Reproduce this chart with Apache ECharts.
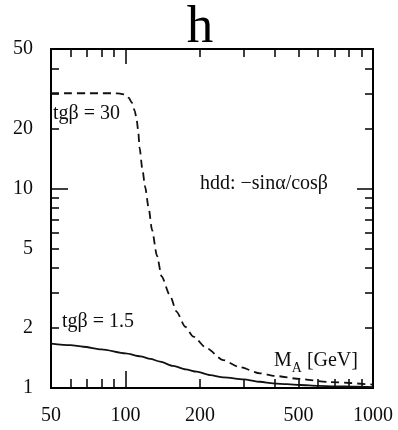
<!DOCTYPE html>
<html>
<head>
<meta charset="utf-8">
<script src="https://cdn.jsdelivr.net/npm/echarts@6/dist/echarts.min.js"></script>
<style>
  html, body { margin: 0; padding: 0; background: #fff; }
  #chart { width: 398px; height: 430px; }
</style>
</head>
<body>
<div id="chart"></div>
<script>
// h coupling to down-type quarks (-sin(alpha)/cos(beta)) versus M_A, log-log

// Tick labels and tick positions
const massLabels = [50, 100, 200, 500, 1000];
const couplingLabels = [1, 2, 5, 10, 20, 50];
const massMinorTicks = [60, 70, 80, 90, 200, 300, 400, 500, 600, 700, 800, 900];
const massMajorTicks = [100];
const couplingMinorTicks = [2, 3, 4, 5, 6, 7, 8, 9, 20, 30, 40];
const couplingMajorTicks = [10];

// tg(beta) = 30, dashed curve
const tanBeta30Mass = [50, 60, 70, 80, 90, 95, 100, 103, 106, 109, 111, 112.5, 114, 117, 120, 124, 128, 134, 140, 151, 161, 174, 188, 213, 248, 290, 350, 400, 507, 670, 1000];
const tanBeta30Coupling = [30, 30, 30, 30, 30, 29.9, 29.5, 28.5, 27, 24.5, 22, 19.5, 16, 12.5, 10.2, 8, 6.2, 4.6, 3.62, 2.92, 2.41, 2.03, 1.81, 1.58, 1.38, 1.27, 1.185, 1.15, 1.11, 1.07, 1.04];

// tg(beta) = 1.5, solid curve
const tanBeta15Mass = [50, 60, 67.5, 80, 100, 115, 126, 138, 156, 175, 194, 220, 250, 300, 350, 395, 450, 507, 600, 700, 850, 1000];
const tanBeta15Coupling = [1.67, 1.64, 1.61, 1.56, 1.49, 1.44, 1.40, 1.355, 1.29, 1.24, 1.207, 1.16, 1.13, 1.105, 1.075, 1.055, 1.045, 1.035, 1.025, 1.02, 1.015, 1.01];

const SERIF = '"Liberation Serif", "DejaVu Serif", serif';
const INK = '#0d0d0d';

function pairs(xs, ys) {
  return xs.map((x, i) => [x, ys[i]]);
}

function tickStyle(values, length) {
  return {
    show: true,
    inside: true,
    length: length,
    customValues: values,
    lineStyle: { color: '#000', width: 1.5 }
  };
}

function labelStyle(values, margin) {
  return {
    show: true,
    customValues: values,
    margin: margin,
    color: INK,
    fontFamily: SERIF,
    fontSize: 20,
    formatter: v => String(Math.round(v))
  };
}

function massAxis(position, ticks, length, labels) {
  return {
    type: 'log', logBase: 10, min: 50, max: 1000, position: position,
    axisLine: { show: false },
    splitLine: { show: false },
    axisTick: tickStyle(ticks, length),
    axisLabel: labels ? labelStyle(labels, 18) : { show: false }
  };
}

function couplingAxis(position, ticks, length, labels) {
  return {
    type: 'log', logBase: 10, min: 1, max: 50, position: position,
    axisLine: { show: false },
    splitLine: { show: false },
    axisTick: tickStyle(ticks, length),
    axisLabel: labels ? labelStyle(labels, 18) : { show: false }
  };
}

function note(x, y, text, size) {
  return {
    type: 'text', x: x, y: y, z: 10,
    style: {
      text: text,
      font: size + 'px ' + SERIF,
      fill: INK,
      align: 'left', verticalAlign: 'middle',
      textAlign: 'left', textVerticalAlign: 'middle'
    }
  };
}

const chart = echarts.init(document.getElementById('chart'), null, { renderer: 'canvas' });

chart.setOption({
  animation: false,
  backgroundColor: '#fff',
  grid: {
    left: 51, right: 25, top: 49, bottom: 42,
    show: true, borderColor: '#000', borderWidth: 2,
    backgroundColor: 'transparent',
    containLabel: false,
    outerBoundsMode: 'none'
  },
  xAxis: [
    massAxis('bottom', massMinorTicks, 9, massLabels),
    massAxis('bottom', massMajorTicks, 17, null),
    massAxis('top', massMinorTicks, 8, null),
    massAxis('top', massMajorTicks, 15, null)
  ],
  yAxis: [
    couplingAxis('left', couplingMinorTicks, 8, couplingLabels),
    couplingAxis('left', couplingMajorTicks, 17, null),
    couplingAxis('right', couplingMinorTicks, 8, null),
    couplingAxis('right', couplingMajorTicks, 16, null)
  ],
  graphic: [
    {
      type: 'text', x: 200, y: 55, z: 10,
      style: {
        text: 'h',
        font: '53px ' + SERIF,
        fill: '#000',
        align: 'center', verticalAlign: 'bottom',
        textAlign: 'center', textVerticalAlign: 'bottom'
      }
    },
    note(53, 114, 'tgβ = 30', 20),
    note(200, 184, 'hdd: −sinα/cosβ', 20),
    note(62, 322, 'tgβ = 1.5', 20),
    {
      type: 'text', x: 274, y: 361, z: 10,
      style: {
        text: '{m|M}{s|A}{m| [GeV]}',
        fill: INK,
        align: 'left', verticalAlign: 'middle',
        textAlign: 'left', textVerticalAlign: 'middle',
        rich: {
          m: { font: '20px ' + SERIF, fill: INK, lineHeight: 22 },
          s: { font: '14px ' + SERIF, fill: INK, padding: [14, 0, 0, 0], lineHeight: 22 }
        }
      }
    }
  ],
  series: [
    {
      name: 'tgβ = 30',
      type: 'line',
      xAxisIndex: 0, yAxisIndex: 0,
      data: pairs(tanBeta30Mass, tanBeta30Coupling),
      showSymbol: false,
      smooth: 0.25,
      smoothMonotone: 'x',
      lineStyle: { color: '#111', width: 1.8, type: [8, 5] }
    },
    {
      name: 'tgβ = 1.5',
      type: 'line',
      xAxisIndex: 0, yAxisIndex: 0,
      data: pairs(tanBeta15Mass, tanBeta15Coupling),
      showSymbol: false,
      smooth: 0.25,
      smoothMonotone: 'x',
      lineStyle: { color: '#111', width: 1.8 }
    }
  ]
});
</script>
</body>
</html>
